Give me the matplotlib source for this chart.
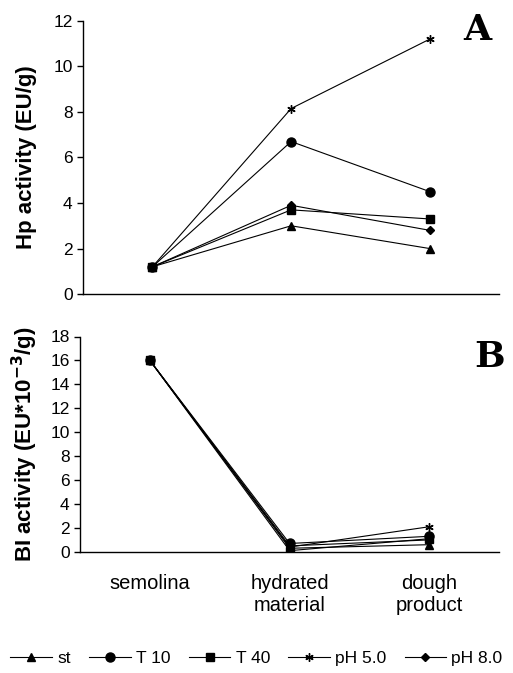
import matplotlib.pyplot as plt

plt.rcParams['font.family'] = ['Liberation Sans', 'DejaVu Sans']

stages = ["semolina", "hydrated\nmaterial", "dough\nproduct"]
x = [0, 1, 2]

# Hp activity (EU/g)
hp_st = [1.2, 3.0, 2.0]
hp_t10 = [1.2, 6.7, 4.5]
hp_t40 = [1.2, 3.7, 3.3]
hp_ph5 = [1.2, 8.15, 11.2]
hp_ph8 = [1.2, 3.9, 2.8]

# BI activity (EU*10^-3/g)
bi_st = [16.0, 0.3, 0.6]
bi_t10 = [16.0, 0.7, 1.3]
bi_t40 = [16.0, 0.1, 1.1]
bi_ph5 = [16.0, 0.4, 2.1]
bi_ph8 = [16.0, 0.5, 1.0]

names = ["st", "T 10", "T 40", "pH 5.0", "pH 8.0"]
markers = ["^", "o", "s", (6, 2, 0), "D"]
msizes = [6, 6.5, 6, 6, 4.5]

fig = plt.figure(figsize=(5.13, 6.73), dpi=100)
ax_a = fig.add_axes([0.162, 0.563, 0.811, 0.406])
ax_b = fig.add_axes([0.156, 0.180, 0.817, 0.320])

for ax, series in [(ax_a, [hp_st, hp_t10, hp_t40, hp_ph5, hp_ph8]),
                   (ax_b, [bi_st, bi_t10, bi_t40, bi_ph5, bi_ph8])]:
    for vals, name, m, ms in zip(series, names, markers, msizes):
        ax.plot(x, vals, color='black', lw=0.8, marker=m, ms=ms,
                mec='black', mfc='black', mew=1.0, label=name)
    ax.set_xlim(-0.5, 2.5)
    ax.spines['top'].set_visible(False)
    ax.spines['right'].set_visible(False)
    ax.spines['left'].set_linewidth(1.0)
    ax.spines['bottom'].set_linewidth(1.0)
    ax.tick_params(axis='y', direction='out', length=4, width=1, labelsize=12.5)
    ax.tick_params(axis='x', length=0)

ax_a.set_ylim(0, 12)
ax_a.set_yticks([0, 2, 4, 6, 8, 10, 12])
ax_a.set_xticks(x)
ax_a.set_xticklabels([])
ax_a.set_ylabel("Hp activity (EU/g)", fontsize=16, fontweight='bold')
ax_a.yaxis.set_label_coords(-0.11, 0.5)

ax_b.set_ylim(0, 18)
ax_b.set_yticks(range(0, 19, 2))
ax_b.set_xticks(x)
ax_b.set_xticklabels(stages, fontsize=14.5, linespacing=1.2)
ax_b.tick_params(axis='x', pad=16)
ax_b.set_ylabel("BI activity (EU*10$^{\\mathbf{-3}}$/g)", fontsize=16, fontweight='bold')
ax_b.yaxis.set_label_coords(-0.095, 0.5)

fig.text(0.930, 0.955, "A", fontsize=26, fontweight='bold',
         family='DejaVu Serif', ha='center', va='center')
fig.text(0.955, 0.470, "B", fontsize=26, fontweight='bold',
         family='DejaVu Serif', ha='center', va='center')

handles, labels = ax_b.get_legend_handles_labels()
fig.legend(handles, labels, loc='lower center', bbox_to_anchor=(0.5, -0.005),
           ncol=5, frameon=False, fontsize=12.5, handlelength=2.4,
           handletextpad=0.3, columnspacing=1.05, borderaxespad=0.2)

fig.savefig("out.png", dpi=100)
